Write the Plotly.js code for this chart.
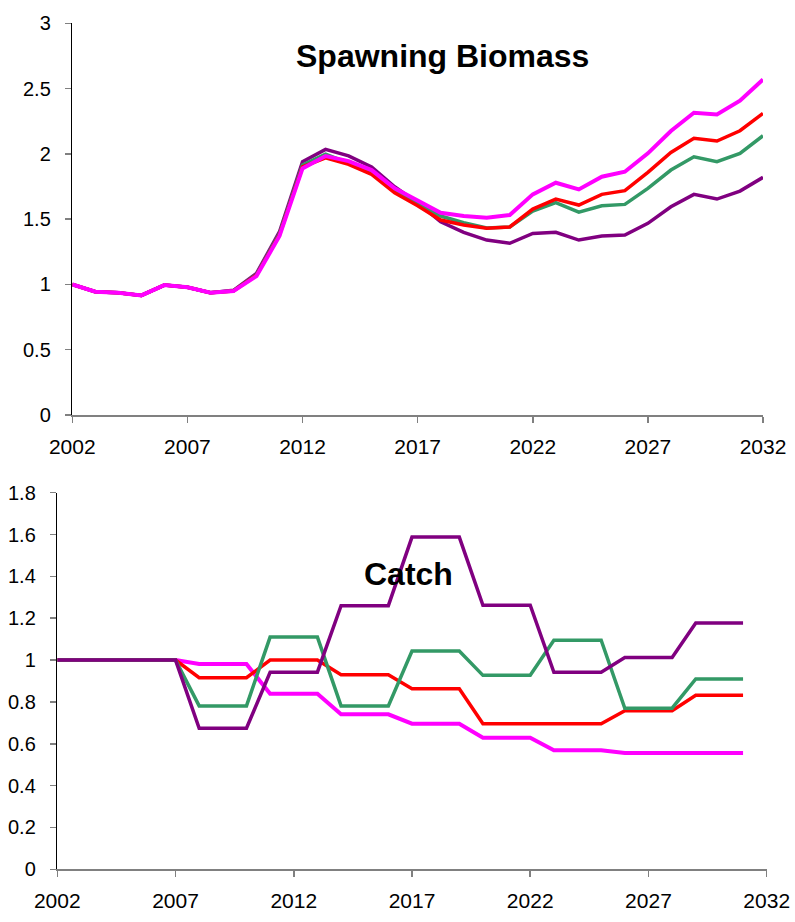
<!DOCTYPE html>
<html>
<head>
<meta charset="utf-8">
<script src="https://cdn.plot.ly/plotly-3.0.1.min.js"></script>
<style>html,body{margin:0;padding:0;background:#fff;}#chart{width:795px;height:922px;}</style>
</head>
<body>
<div id="chart"></div>
<script>
// ---- data ----
var years = [2002,2003,2004,2005,2006,2007,2008,2009,2010,2011,2012,2013,2014,2015,2016,2017,2018,2019,2020,2021,2022,2023,2024,2025,2026,2027,2028,2029,2030,2031,2032];
var catchYears = years.slice(0, 30); // 2002..2031

var ssbPurple  = [1.00,0.944,0.937,0.916,0.995,0.978,0.937,0.955,1.085,1.404,1.940,2.034,1.985,1.900,1.748,1.625,1.480,1.399,1.340,1.315,1.391,1.399,1.340,1.371,1.378,1.468,1.595,1.690,1.654,1.715,1.820];
var ssbGreen   = [1.00,0.944,0.937,0.916,0.995,0.978,0.937,0.952,1.075,1.390,1.914,1.998,1.930,1.860,1.720,1.615,1.524,1.473,1.433,1.440,1.562,1.626,1.554,1.603,1.613,1.736,1.876,1.978,1.940,2.004,2.139];
var ssbRed     = [1.00,0.944,0.937,0.916,0.995,0.978,0.937,0.950,1.070,1.380,1.900,1.970,1.920,1.843,1.702,1.603,1.493,1.455,1.430,1.440,1.577,1.654,1.608,1.690,1.718,1.858,2.011,2.119,2.098,2.177,2.310];
var ssbMagenta = [1.00,0.944,0.937,0.916,0.995,0.978,0.937,0.949,1.064,1.371,1.889,1.983,1.945,1.876,1.736,1.646,1.549,1.524,1.511,1.531,1.690,1.779,1.728,1.825,1.863,2.004,2.175,2.315,2.302,2.407,2.570];

var catchPurple  = [1,1,1,1,1,1,0.674,0.674,0.674,0.942,0.942,0.942,1.260,1.260,1.260,1.588,1.588,1.588,1.262,1.262,1.262,0.942,0.942,0.942,1.012,1.012,1.012,1.177,1.177,1.177];
var catchGreen   = [1,1,1,1,1,1,0.781,0.781,0.781,1.110,1.110,1.110,0.781,0.781,0.781,1.043,1.043,1.043,0.927,0.927,0.927,1.095,1.095,1.095,0.770,0.770,0.770,0.910,0.910,0.910];
var catchRed     = [1,1,1,1,1,1,0.916,0.916,0.916,1.000,1.000,1.000,0.930,0.930,0.930,0.863,0.863,0.863,0.696,0.696,0.696,0.696,0.696,0.696,0.758,0.758,0.758,0.832,0.832,0.832];
var catchMagenta = [1,1,1,1,1,1,0.981,0.981,0.981,0.839,0.839,0.839,0.741,0.741,0.741,0.696,0.696,0.696,0.629,0.629,0.629,0.569,0.569,0.569,0.556,0.556,0.556,0.556,0.556,0.556];

var xTicks = [2002,2007,2012,2017,2022,2027,2032];
var yTicksTop = [0,0.5,1,1.5,2,2.5,3];
var yTicksBot = [0,0.2,0.4,0.6,0.8,1,1.2,1.4,1.6,1.8];
var yTextTop = ["0","0.5","1","1.5","2","2.5","3"];
var yTextBot = ["0","0.2","0.4","0.6","0.8","1","1.2","1.4","1.6","1.8"];

// ---- styles ----
var C = {purple:'#800080', green:'#339966', red:'#FF0000', magenta:'#FF00FF'};
var W = 3.5;
function tr(x, y, color, xa, ya, w){
  return {x:x, y:y, type:'scatter', mode:'lines', xaxis:xa, yaxis:ya,
          line:{color:color, width:w||W}, hoverinfo:'skip', showlegend:false};
}
var data = [
  tr(years, ssbPurple, C.purple, 'x', 'y'),
  tr(years, ssbGreen, C.green, 'x', 'y'),
  tr(years, ssbRed, C.red, 'x', 'y'),
  tr(years, ssbMagenta, C.magenta, 'x', 'y', 4),
  tr(catchYears, catchMagenta, C.magenta, 'x2', 'y2', 4),
  tr(catchYears, catchRed, C.red, 'x2', 'y2'),
  tr(catchYears, catchGreen, C.green, 'x2', 'y2'),
  tr(catchYears, catchPurple, C.purple, 'x2', 'y2')
];

var W0 = 795, H0 = 922;
var tickFontX = {family:'Liberation Sans, Arial, sans-serif', size:21, color:'#000'};
var tickFontY = {family:'Liberation Sans, Arial, sans-serif', size:20, color:'#000'};
function xax(dom, anchor){
  return {domain:dom, anchor:anchor, range:[2002,2032], tickmode:'array', tickvals:xTicks,
          ticks:'outside', ticklen:6, tickwidth:1.5, tickcolor:'#808080',
          showline:true, linecolor:'#808080', linewidth:1.5, showgrid:false, zeroline:false,
          tickfont:tickFontX, automargin:false, fixedrange:true, ticklabelstandoff:6};
}
function yax(dom, anchor, rng, vals, txt){
  return {domain:dom, anchor:anchor, range:rng, tickmode:'array', tickvals:vals, ticktext:txt,
          ticks:'outside', ticklen:6, tickwidth:1.5, tickcolor:'#808080',
          showline:true, linecolor:'#000', linewidth:1.5, showgrid:false, zeroline:false,
          tickfont:tickFontY, automargin:false, fixedrange:true, ticklabelstandoff:10};
}

var layout = {
  width:W0, height:H0, margin:{l:0,r:0,t:0,b:0}, paper_bgcolor:'#fff', plot_bgcolor:'rgba(0,0,0,0)',
  showlegend:false,
  xaxis: xax([72.3/W0, 763/W0], 'y'),
  yaxis: yax([(H0-415)/H0, (H0-23.3)/H0], 'x', [0,3], yTicksTop, yTextTop),
  xaxis2: xax([57.3/W0, 766.7/W0], 'y2'),
  yaxis2: yax([(H0-869.3)/H0, (H0-492.7)/H0], 'x2', [0,1.8], yTicksBot, yTextBot),
  annotations:[
    {text:'<b>Spawning Biomass</b>', xref:'paper', yref:'paper', x:442.5/W0, y:1-56/H0,
     xanchor:'center', yanchor:'middle', showarrow:false,
     font:{family:'Liberation Sans, Arial, sans-serif', size:32, color:'#000'}},
    {text:'<b>Catch</b>', xref:'paper', yref:'paper', x:408.7/W0, y:1-574/H0,
     xanchor:'center', yanchor:'middle', showarrow:false,
     font:{family:'Liberation Sans, Arial, sans-serif', size:32, color:'#000'}}
  ]
};
Plotly.newPlot('chart', data, layout, {staticPlot:true, displayModeBar:false});
</script>
</body>
</html>
